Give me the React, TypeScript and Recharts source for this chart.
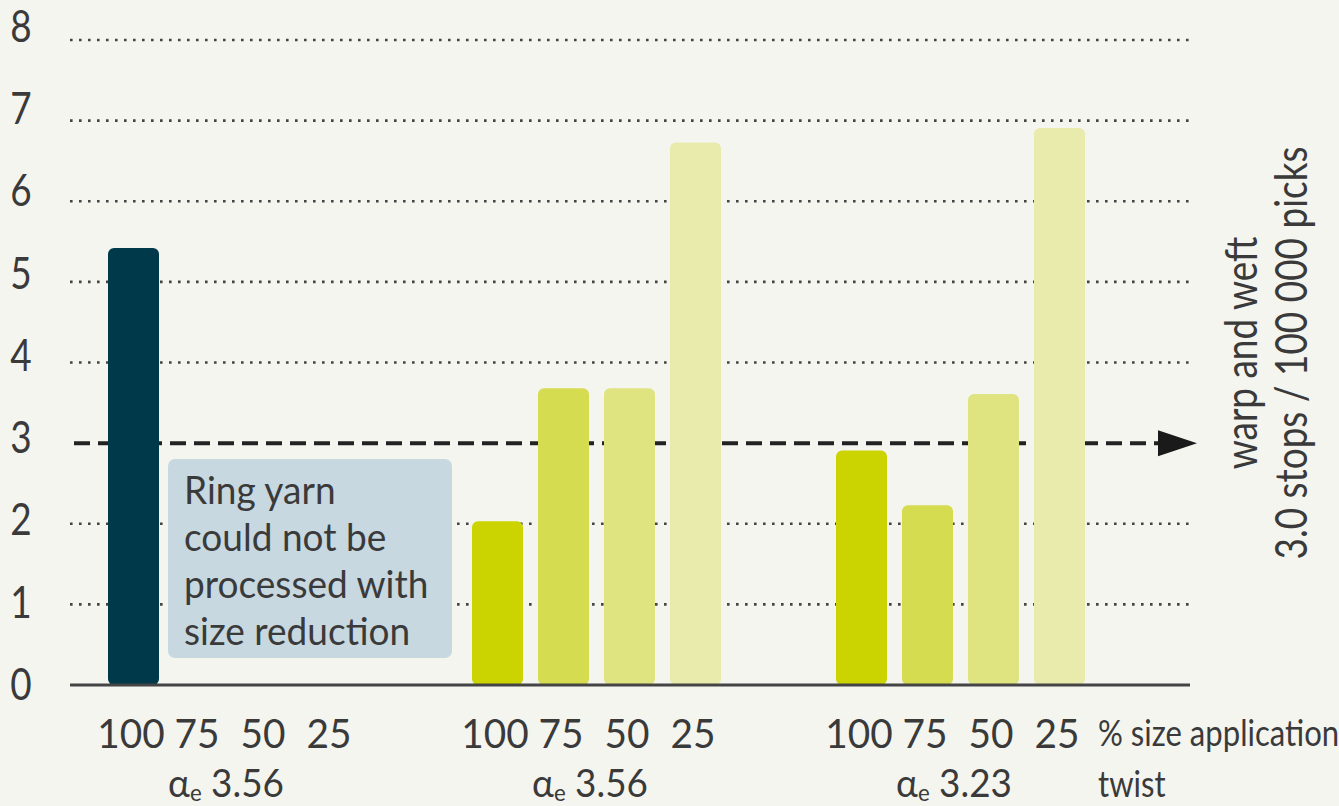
import React from "react"
import { BarChart, Bar, XAxis, YAxis, CartesianGrid, ReferenceLine, Cell } from "recharts"

// twist groups along the x axis
const groupIds = ["ring", "compactA", "compactB"]
const twistLabels = ["3.56", "3.56", "3.23"]
// % size application levels (one bar series each)
const sizeLevels = ["100", "75", "50", "25"]
// warp + weft stops / 100 000 picks
const size100 = [5.42, 2.03, 2.91]
const size75 = [null, 3.68, 2.23]
const size50 = [null, 3.68, 3.61]
const size25 = [null, 6.73, 6.91]
const yTicks = [0, 1, 2, 3, 4, 5, 6, 7, 8]
const threshold = 3.0
const noteLines = ["Ring yarn", "could not be", "processed with", "size reduction"]
const targetLines = ["warp and weft", "3.0 stops / 100 000 picks"]

const seriesValues = [size100, size75, size50, size25]
const data = groupIds.map((id, i) => {
  const row: Record<string, string | number | null> = { id, twist: twistLabels[i] }
  sizeLevels.forEach((lvl, k) => (row["s" + lvl] = seriesValues[k][i]))
  return row
})

const FONT = "Lato, 'Open Sans', sans-serif"
const SQUEEZE = 0.84 // the original type is a condensed face
const TEXT = "#3a3a3a"
const RING_COLOR = "#003a4a"
const SIZE_COLORS = ["#cbd300", "#d5dc4f", "#dfe480", "#e8ebab"]
const BAR_SIZE = 51
const BAR_GAP = 15

const NText = ({ x, y, size, anchor = "start", rotate = 0, baseline, squeeze = SQUEEZE, children }: any) => (
  <text
    transform={`translate(${x},${y})${rotate ? ` rotate(${rotate})` : ""} scale(${squeeze},1)`}
    textAnchor={anchor}
    dominantBaseline={baseline}
    fontSize={size}
    fill={TEXT}
    fontFamily={FONT}
  >
    {children}
  </text>
)

const YTick = (props: any) => {
  const { y, payload } = props
  return (
    <NText x={21} y={y - 2 - 1.6 * payload.value} size={44} anchor="middle" baseline="central">
      {payload.value}
    </NText>
  )
}

const GroupTick = (props: any) => {
  const { x, y, payload } = props
  const step = BAR_SIZE + BAR_GAP
  const i = payload.index ?? 0
  return (
    <g>
      {sizeLevels.map((lvl, k) => (
        <NText key={lvl} x={x + (k - 1.5) * step - 2} y={y + 63} size={40} squeeze={0.97} anchor="middle">
          {lvl}
        </NText>
      ))}
      <NText x={x - 6} y={y + 112} size={38} squeeze={0.97} anchor="middle">
        <tspan>α</tspan>
        <tspan fontSize={23} dy={4}>e</tspan>
        <tspan dy={-4}> {twistLabels[i]}</tspan>
      </NText>
    </g>
  )
}

const ThresholdLine = (props: any) => {
  const { x1, y1, x2 } = props
  return (
    <g>
      <line x1={x1 + 4} y1={y1} x2={x2 - 32} y2={y1} stroke="#222" strokeWidth={4} strokeDasharray="16 8" />
      <polygon points={`${x2 - 32},${y1 - 13} ${x2 + 7},${y1} ${x2 - 32},${y1 + 13}`} fill="#1a1a1a" />
    </g>
  )
}

export default function App() {
  return (
    <div style={{ position: "absolute", left: 0, top: 0, width: 1339, height: 806, background: "#f5f5f0" }}>
      <BarChart
        width={1339}
        height={806}
        data={data}
        barGap={BAR_GAP}
        margin={{ top: 40, right: 149, bottom: 0, left: 0 }}
      >
        <CartesianGrid
          vertical={false}
          horizontalValues={yTicks.filter((v) => v !== 0 && v !== threshold)}
          stroke="#444"
          strokeWidth={2.6}
          strokeDasharray="2.6 6.4"
        />
        <YAxis
          domain={[0, 8]}
          ticks={yTicks}
          width={70}
          axisLine={false}
          tickLine={false}
          tick={<YTick />}
          interval={0}
        />
        <XAxis
          dataKey="id"
          height={121}
          padding={{ left: -20, right: 48 }}
          axisLine={{ stroke: "#444", strokeWidth: 3 }}
          tickLine={false}
          tickSize={0}
          tickMargin={0}
          tick={<GroupTick />}
          interval={0}
        />
        <ReferenceLine y={threshold} shape={<ThresholdLine />} zIndex={100} />
        {sizeLevels.map((lvl, k) => (
          <Bar key={lvl} dataKey={"s" + lvl} barSize={BAR_SIZE} fill={SIZE_COLORS[k]} radius={6} isAnimationActive={false}>
            {k === 0 && data.map((d, i) => <Cell key={i} fill={i === 0 ? RING_COLOR : SIZE_COLORS[0]} />)}
          </Bar>
        ))}
      </BarChart>
      <svg width={1339} height={806} style={{ position: "absolute", left: 0, top: 0, pointerEvents: "none" }}>
        <rect x={168} y={459} width={284} height={199} rx={7} fill="#c7d8e0" />
        {noteLines.map((t, i) => (
          <NText key={t} x={184} y={504 + i * 47} size={39} squeeze={0.95}>
            {t}
          </NText>
        ))}
        <NText x={1098} y={746} size={37}>% size application</NText>
        <NText x={1098} y={797} size={37}>twist</NText>
        {targetLines.map((t, i) => (
          <NText key={t} x={1240 + i * 50} y={353} size={44} anchor="middle" baseline="central" rotate={-90}>
            {t}
          </NText>
        ))}
      </svg>
    </div>
  )
}
